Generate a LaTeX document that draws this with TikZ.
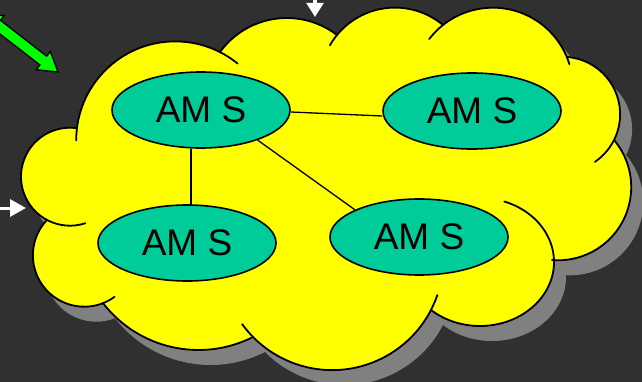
\documentclass[tikz,border=0pt]{standalone}
\usepackage{fontspec}
\setmainfont{Liberation Sans}
\usetikzlibrary{shapes.geometric,arrows.meta}
\definecolor{bgdark}{RGB}{48,48,48}
\definecolor{cloudfill}{RGB}{255,255,0}
\definecolor{cloudshade}{RGB}{128,128,128}
\definecolor{nodeteal}{RGB}{0,204,153}
\definecolor{arrowgreen}{RGB}{0,255,0}
\begin{document}
\begin{tikzpicture}[x=1pt,y=-1pt,
  amsnode/.style={ellipse, draw=black, line width=1.6pt, fill=nodeteal,
    minimum width=178pt, minimum height=76pt, inner sep=0pt,
    font=\fontsize{37}{44}\selectfont},
  link/.style={draw=black, line width=1.3pt},
  cloudedge/.style={draw=black, line width=1.8pt, line cap=round},
  cloud outline/.style={insert path={
    ([shift={(175.2,140.4)}]187.2:99) arc[start angle=187.2, end angle=296.9, radius=99]
    -- ([shift={(286.8,100.6)}]216.0:82.6) arc[start angle=216.0, end angle=307.4, radius=82.6]
    -- ([shift={(394.9,82.5)}]219.4:74.9) arc[start angle=219.4, end angle=309.9, radius=74.9]
    -- ([shift={(492.8,87.9)}]231.6:80.2) arc[start angle=231.6, end angle=337.4, radius=80.2]
    -- ([shift={(562.6,114.3)}]274.4:57.5) arc[start angle=274.4, end angle=386.6, radius=57.5]
    -- ([shift={(558,187.1)}]-40.1:73.2) arc[start angle=-40.1, end angle=94.7, radius=73.2]
    -- ([shift={(480,262)}]-1.8:74 and 64) arc[start angle=-1.8, end angle=131.4, x radius=74, y radius=64]
    -- ([shift={(332.2,258.9)}]27.3:111.2) arc[start angle=27.3, end angle=135.4, radius=111.2]
    -- ([shift={(198.5,229.3)}]63.2:120.7) arc[start angle=63.2, end angle=142.3, radius=120.7]
    -- ([shift={(84.3,255.3)}]68.6:51.4) arc[start angle=68.6, end angle=223.4, radius=51.4]
    -- ([shift={(70,176.7)}]118:49) arc[start angle=118, end angle=278.2, radius=49]
    -- cycle}}
]
% canvas
\useasboundingbox (0,0) rectangle (642,382);
\fill[bgdark] (0,0) rectangle (642,382);

% cloud: drop shadow, body, then the lobe arcs (some run on inside the body)
\fill[cloudshade, shift={(12,15)}, cloud outline];
\fill[cloudfill, cloud outline];
\draw[cloudedge] ([shift={(175.2,140.4)}]180:99) arc[start angle=180, end angle=309.1, radius=99];
\draw[cloudedge] ([shift={(286.8,100.6)}]216.0:82.6) arc[start angle=216.0, end angle=307.4, radius=82.6];
\draw[cloudedge] ([shift={(394.9,82.5)}]209.8:74.9) arc[start angle=209.8, end angle=309.9, radius=74.9];
\draw[cloudedge] ([shift={(492.8,87.9)}]217.5:80.2) arc[start angle=217.5, end angle=342.8, radius=80.2];
\draw[cloudedge] ([shift={(562.6,114.3)}]274.4:57.5) arc[start angle=274.4, end angle=415.8, radius=57.5];
\draw[cloudedge] ([shift={(558,187.1)}]-40.1:73.2) arc[start angle=-40.1, end angle=94.7, radius=73.2];
\draw[cloudedge] ([shift={(480,262)}]-70.8:74 and 64) arc[start angle=-70.8, end angle=131.4, x radius=74, y radius=64];
\draw[cloudedge] ([shift={(332.2,258.9)}]19:111.2) arc[start angle=19, end angle=144.1, radius=111.2];
\draw[cloudedge] ([shift={(198.5,229.3)}]63.2:120.7) arc[start angle=63.2, end angle=142.3, radius=120.7];
\draw[cloudedge] ([shift={(84.3,255.3)}]54:51.4) arc[start angle=54, end angle=223.4, radius=51.4];
\draw[cloudedge] ([shift={(70,176.7)}]71.7:49) arc[start angle=71.7, end angle=278.2, radius=49];

% the four AM S nodes
\node[amsnode] (e1) at (201,110) {AM S};
\node[amsnode] (e2) at (472,111) {AM S};
\node[amsnode] (e3) at (187,243) {AM S};
\node[amsnode] (e4) at (419,237) {AM S};

% links between them
\draw[link] ([yshift=-2pt]e1.east) -- ([yshift=-5pt]e2.west);
\draw[link] ([xshift=4pt]e3.north) -- ([xshift=4pt]e3.north |- e1.south);
\draw[link] (e1.-28.2) -- (e4.157.1);

% incoming arrows
\draw[fill=arrowgreen, draw=black, line width=1.3pt, line join=miter]
  (58,72) -- (36.25,69.7) -- (39.93,64.95) -- (-6.27,29.05) -- (-9.95,33.8)
  -- (-17.6,13.3) -- (4.15,15.6) -- (0.47,20.35) -- (46.67,56.25) -- (50.35,51.5) -- cycle;
\coordinate (topfrom) at (315,-6);
\coordinate (topto) at (315,17);
\draw[white, line width=3.5pt, -{Triangle[width=16.5pt,length=14pt]}] (topfrom) -- (topto);
\coordinate (leftfrom) at (-6,208);
\coordinate (leftto) at (26,208);
\draw[white, line width=3pt, -{Triangle[width=17pt,length=16pt]}] (leftfrom) -- (leftto);
\end{tikzpicture}
\end{document}
